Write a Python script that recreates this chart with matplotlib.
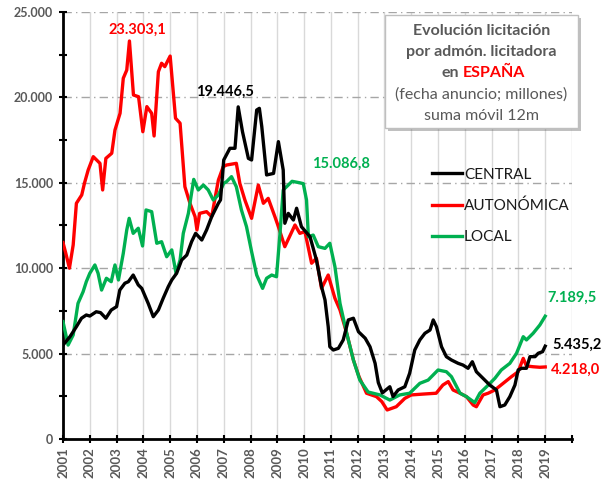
import matplotlib
matplotlib.use("Agg")
import matplotlib.pyplot as plt
import matplotlib.patheffects as pe
from matplotlib.patches import Rectangle
from matplotlib.ticker import FuncFormatter, MultipleLocator

# Data (decimal year, millions EUR, 12m moving sum)
central_t = [2001.0, 2001.26, 2001.5, 2001.69, 2001.87, 2002.0, 2002.24, 2002.4, 2002.6, 2002.8,
             2003.0, 2003.12, 2003.31, 2003.44, 2003.62, 2003.81, 2003.94, 2004.18, 2004.37, 2004.56,
             2004.74, 2004.93, 2005.06, 2005.24, 2005.43, 2005.62, 2005.8, 2005.95, 2006.18, 2006.36,
             2006.55, 2006.8, 2006.88, 2007.0, 2007.23, 2007.42, 2007.54, 2007.7, 2007.92, 2008.04,
             2008.23, 2008.33, 2008.42, 2008.6, 2008.86, 2009.04, 2009.22, 2009.28, 2009.41, 2009.6,
             2009.72, 2009.9, 2010.22, 2010.46, 2010.65, 2010.78, 2010.9, 2010.96, 2011.09, 2011.28,
             2011.46, 2011.65, 2011.84, 2012.03, 2012.28, 2012.46, 2012.65, 2012.77, 2012.92, 2013.2,
             2013.32, 2013.51, 2013.76, 2013.94, 2014.13, 2014.32, 2014.51, 2014.7, 2014.82, 2014.94,
             2015.13, 2015.31, 2015.5, 2015.75, 2015.93, 2016.12, 2016.28, 2016.43, 2016.68, 2016.93,
             2017.18, 2017.31, 2017.49, 2017.68, 2017.87, 2017.99, 2018.12, 2018.3, 2018.43, 2018.62,
             2018.74, 2018.9, 2019.0]
central_v = [5500, 5990, 6575, 7070, 7260, 7200, 7450, 7400, 7070, 7550,
             7750, 8720, 9120, 9210, 9600, 9020, 8820, 7940, 7160, 7550,
             8240, 8920, 9310, 9700, 10480, 10770, 11550, 12040, 11650, 12240,
             13015, 13800, 14000, 16335, 17020, 17020, 19446, 17990, 16430, 16335,
             19260, 19360, 18290, 15460, 15550, 17410, 15750, 12630, 13210, 12820,
             13510, 12430, 11845, 10480, 8920, 8140, 6575, 5400, 5210, 5310,
             5800, 6970, 7070, 6280, 5900, 5400, 4430, 3300, 2700, 3060,
             2480, 2870, 3060, 3850, 5210, 5800, 6190, 6380, 6970, 6575,
             5400, 4820, 4625, 4430, 4330, 4140, 4525, 3940, 3550, 3160,
             2870, 1890, 1990, 2480, 3160, 4040, 4140, 4140, 4820, 4820,
             5020, 5110, 5435]

autonomica_t = [2001.0, 2001.1, 2001.24, 2001.38, 2001.5, 2001.7, 2001.8, 2001.94, 2002.13, 2002.38,
                2002.48, 2002.6, 2002.82, 2002.94, 2003.13, 2003.25, 2003.38, 2003.48, 2003.63, 2003.82,
                2003.98, 2004.13, 2004.31, 2004.4, 2004.56, 2004.68, 2004.8, 2005.0, 2005.2, 2005.37,
                2005.55, 2005.74, 2005.93, 2006.0, 2006.1, 2006.36, 2006.55, 2006.8, 2006.98, 2007.1,
                2007.47, 2007.6, 2007.79, 2008.04, 2008.29, 2008.48, 2008.66, 2008.91, 2009.04, 2009.28,
                2009.66, 2009.84, 2010.03, 2010.28, 2010.46, 2010.65, 2010.9, 2011.15, 2011.34, 2011.59,
                2011.84, 2012.05, 2012.33, 2012.7, 2012.9, 2013.1, 2013.44, 2013.76, 2014.0, 2014.44,
                2014.93, 2015.18, 2015.38, 2015.56, 2015.82, 2016.06, 2016.31, 2016.43, 2016.68, 2016.87,
                2017.12, 2017.43, 2017.74, 2017.99, 2018.18, 2018.3, 2018.55, 2018.8, 2019.0]
autonomica_v = [11500, 10900, 10000, 11360, 13800, 14290, 14970, 15750, 16530, 16140,
                14580, 16430, 16730, 18090, 19070, 21120, 21600, 23303, 20140, 20040,
                17990, 19460, 19070, 17740, 21500, 22000, 21800, 22420, 18780, 18490,
                14770, 13800, 13015, 12240, 13210, 13310, 13015, 15160, 15940, 16040,
                16140, 14970, 13990, 12920, 14870, 13800, 14090, 13015, 12430, 11260,
                12530, 12040, 12140, 10290, 10580, 8820, 9600, 8240, 7550, 6190,
                4625, 3650, 2680, 2480, 2190, 1700, 1890, 2380, 2580, 2630,
                2680, 3160, 3360, 2870, 2680, 2480, 1990, 1890, 2580, 2680,
                2870, 3260, 3650, 3940, 4720, 4275, 4230, 4200, 4218]

local_t = [2001.0, 2001.19, 2001.38, 2001.56, 2001.75, 2001.87, 2002.0, 2002.19, 2002.31, 2002.44,
           2002.62, 2002.8, 2002.94, 2003.07, 2003.25, 2003.38, 2003.47, 2003.62, 2003.81, 2003.97,
           2004.1, 2004.31, 2004.5, 2004.68, 2004.87, 2005.06, 2005.22, 2005.37, 2005.49, 2005.68,
           2005.88, 2006.05, 2006.24, 2006.42, 2006.61, 2006.8, 2007.0, 2007.1, 2007.29, 2007.47,
           2007.66, 2007.85, 2008.04, 2008.23, 2008.45, 2008.6, 2008.79, 2008.97, 2009.1, 2009.22,
           2009.41, 2009.55, 2009.84, 2009.97, 2010.09, 2010.16, 2010.34, 2010.53, 2010.78, 2010.96,
           2011.15, 2011.34, 2011.59, 2011.84, 2012.08, 2012.39, 2012.65, 2012.83, 2013.2, 2013.57,
           2013.94, 2014.32, 2014.63, 2015.0, 2015.31, 2015.5, 2015.82, 2016.06, 2016.37, 2016.56,
           2016.81, 2017.12, 2017.36, 2017.68, 2017.93, 2018.18, 2018.3, 2018.55, 2018.8, 2019.0]
local_v = [6870, 5500, 6090, 7940, 8620, 9210, 9700, 10190, 9700, 8720,
           9410, 9210, 10190, 9310, 10870, 12240, 12920, 12040, 12340, 11300,
           13410, 13310, 11460, 11550, 10670, 11070, 9700, 10480, 12040, 13210,
           15200, 14580, 14870, 14580, 13990, 14290, 14970, 15060, 15360, 14770,
           13410, 12430, 10970, 9600, 8820, 9410, 9600, 9500, 12040, 14580,
           14870, 15087, 15000, 14950, 13990, 11840, 11940, 11260, 11160, 11460,
           10090, 7940, 6190, 4625, 3450, 2750, 2650, 2580, 2280, 2580,
           2680, 3260, 3450, 4040, 3940, 3650, 2680, 2480, 2130, 2680,
           3060, 3550, 4040, 4430, 5020, 5990, 5800, 6190, 6675, 7190]

years = list(range(2001, 2021))
year_labels = [str(y) for y in range(2001, 2020)] + [""]

GREY = "#595959"
BLACK = "#000000"
RED = "#FF0000"
GREEN = "#00B050"
FONT = "Lato"

plt.rcParams["font.family"] = [FONT, "DejaVu Sans"]

fig = plt.figure(figsize=(6.02, 4.83), dpi=100)
ax = fig.add_axes([63 / 602, 1 - 439 / 483, (572 - 63) / 602, (439 - 12) / 483])

lw = 2.4
ax.plot(central_t, central_v, color=BLACK, lw=lw, label="CENTRAL", zorder=4)
ax.plot(autonomica_t, autonomica_v, color=RED, lw=lw, label="AUTONÓMICA", zorder=3)
ax.plot(local_t, local_v, color=GREEN, lw=lw, label="LOCAL", zorder=3)

ax.set_xlim(2001, 2020)
ax.set_ylim(0, 25000)

# grid: solid light verticals per year, dash-dot horizontals every 5.000
for y in years[1:]:
    ax.axvline(y, color="#D9D9D9", lw=1, zorder=1)
for v in range(5000, 25001, 5000):
    ax.axhline(v, color="#A6A6A6", lw=1, ls=(0, (6, 3, 1, 3)), zorder=1)

for s in ("top", "right"):
    ax.spines[s].set_visible(False)
for s in ("left", "bottom"):
    ax.spines[s].set_linewidth(2)
    ax.spines[s].set_color("black")

ax.yaxis.set_major_locator(MultipleLocator(5000))
ax.yaxis.set_minor_locator(MultipleLocator(2500))
ax.yaxis.set_major_formatter(FuncFormatter(lambda v, p: f"{int(v):,}".replace(",", ".")))
ax.set_xticks(years)
ax.set_xticklabels(year_labels, rotation=90)
ax.tick_params(axis="y", which="both", direction="inout", length=6, width=1.5,
               colors="black", labelcolor=GREY, labelsize=9, pad=4)
ax.tick_params(axis="x", direction="inout", length=6, width=1.5, colors="black",
               labelcolor=GREY, labelsize=9.5, pad=3)
for lab in ax.get_xticklabels() + ax.get_yticklabels():
    lab.set_fontweight("bold")

# value annotations
ann = dict(fontsize=10.5, fontweight="bold", ha="center", va="center", clip_on=False)
ax.text(2003.76, 23950, "23.303,1", color=RED, **ann)
ax.text(2007.04, 20320, "19.446,5", color=BLACK, **ann)
ax.text(2011.37, 16100, "15.086,8", color=GREEN, **ann)
ax.text(2020.0, 8255, "7.189,5", color=GREEN, **ann)
ax.text(2020.2, 5500, "5.435,2", color=BLACK, **ann)
ax.text(2020.14, 4040, "4.218,0", color=RED, **ann)

# legend
leg = ax.legend(loc="upper left", bbox_to_anchor=(418 / 602, 1 - 154 / 483),
                bbox_transform=fig.transFigure, frameon=False, fontsize=11,
                handlelength=2.0, handletextpad=0.1, labelspacing=1.1)
for t in leg.get_texts():
    t.set_color("#1a1a1a")

# title box
box = Rectangle((385 / 602, 1 - 128 / 483), 193 / 602, 113 / 483, transform=fig.transFigure,
                facecolor="white", edgecolor="#BFBFBF", lw=1, zorder=10,
                path_effects=[pe.SimplePatchShadow(offset=(2, -2), alpha=0.35), pe.Normal()])
fig.patches.append(box)

cx = 481.5 / 602
tsize = 11.5
fig.text(cx, 1 - 35 / 483, "Evolución licitación", color=GREY, fontsize=tsize,
         fontweight="bold", ha="center", va="baseline", zorder=11)
fig.text(cx, 1 - 56 / 483, "por admón. licitadora", color=GREY, fontsize=tsize,
         fontweight="bold", ha="center", va="baseline", zorder=11)
fig.text(459 / 602, 1 - 77 / 483, "en", color=GREY, fontsize=tsize,
         fontweight="bold", ha="right", va="baseline", zorder=11)
fig.text(463 / 602, 1 - 77 / 483, "ESPAÑA", color=RED, fontsize=tsize,
         fontweight="bold", ha="left", va="baseline", zorder=11)
fig.text(cx, 1 - 99 / 483, "(fecha anuncio; millones)", color=GREY, fontsize=tsize,
         ha="center", va="baseline", zorder=11)
fig.text(cx, 1 - 120 / 483, "suma móvil 12m", color=GREY, fontsize=tsize,
         ha="center", va="baseline", zorder=11)

fig.savefig("out.png", dpi=100)
